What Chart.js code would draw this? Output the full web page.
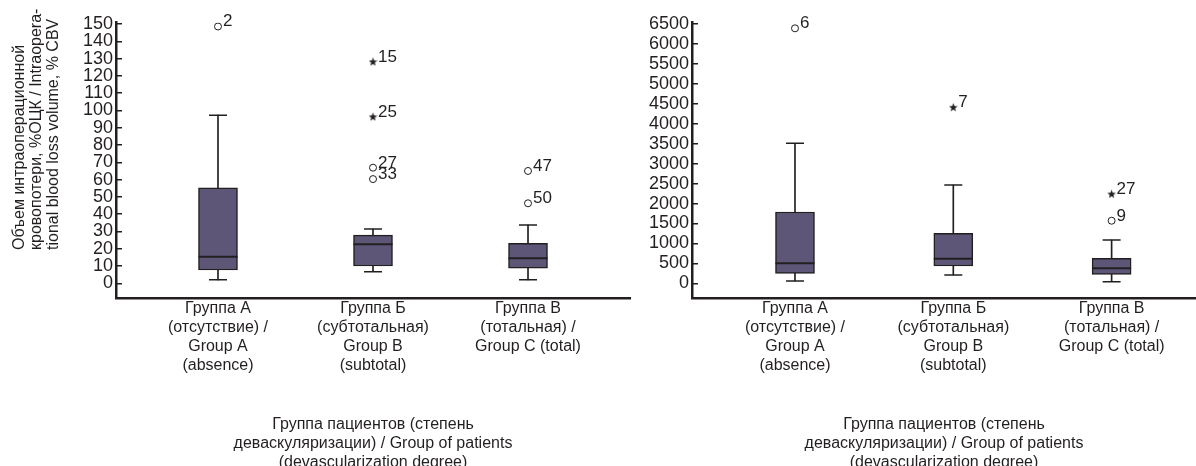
<!DOCTYPE html>
<html>
<head>
<meta charset="utf-8">
<script src="https://cdn.jsdelivr.net/npm/chart.js@4.4.0/dist/chart.umd.min.js"></script>
<style>
html, body { margin: 0; padding: 0; background: #fff; overflow: hidden; }
#left { position: absolute; left: 0; top: 0; width: 640px; height: 466px; }
#right { position: absolute; left: 640px; top: 0; width: 556px; height: 466px; }
</style>
</head>
<body>
<div id="left"><canvas id="chartLeft"></canvas></div>
<div id="right"><canvas id="chartRight"></canvas></div>
<script>
// categories
var groupX = [1, 2, 3];
var groupLabels = [
    ['Группа А', '(отсутствие) /', 'Group A', '(absence)'],
    ['Группа Б', '(субтотальная)', 'Group B', '(subtotal)'],
    ['Группа В', '(тотальная) /', 'Group C (total)']
];
var xTitle = ['Группа пациентов (степень', 'деваскуляризации) / Group of patients', '(devascularization degree)'];
var yTitle = ['Объем интраоперационной', 'кровопотери, %ОЦК / Intraopera-', 'tional blood loss volume, % CBV'];

// left chart: % CBV
var pctMin = [2, 6.7, 2];
var pctQ1 = [7.7, 10, 8.7];
var pctMedian = [15.4, 22.6, 14.5];
var pctQ3 = [55.3, 27.9, 23.1];
var pctMax = [97.3, 31.4, 33.7];
var pctOutX = [1, 2, 2, 3, 3];
var pctOutY = [148.6, 66.9, 60.3, 65, 46.3];
var pctOutLabels = ['2', '27', '33', '47', '50'];
var pctExtX = [2, 2];
var pctExtY = [128.2, 96.4];
var pctExtLabels = ['15', '25'];
var pctTicks = [0, 10, 20, 30, 40, 50, 60, 70, 80, 90, 100, 110, 120, 130, 140, 150];

// right chart: ml
var mlMin = [58, 208, 40];
var mlQ1 = [251, 434, 226];
var mlMedian = [501, 617, 376];
var mlQ3 = [1787, 1253, 627];
var mlMax = [3510, 2464, 1085];
var mlOutX = [1, 3];
var mlOutY = [6392, 1569];
var mlOutLabels = ['6', '9'];
var mlExtX = [2, 3];
var mlExtY = [4412, 2239];
var mlExtLabels = ['7', '27'];
var mlTicks = [0, 500, 1000, 1500, 2000, 2500, 3000, 3500, 4000, 4500, 5000, 5500, 6000, 6500];

var ink = '#231f20';
var boxFill = '#5d5677';
var fontFamily = "'Liberation Sans', Arial, sans-serif";

// small filled star used as point style for extreme values
var star = document.createElement('canvas');
star.width = 9; star.height = 9;
(function () {
    var c = star.getContext('2d');
    c.fillStyle = ink;
    c.beginPath();
    for (var i = 0; i < 10; i++) {
        var r = i % 2 === 0 ? 4.5 : 1.9;
        var a = -Math.PI / 2 + i * Math.PI / 5;
        var px = 4.5 + r * Math.cos(a), py = 4.8 + r * Math.sin(a);
        if (i === 0) c.moveTo(px, py); else c.lineTo(px, py);
    }
    c.closePath();
    c.fill();
})();

function pts(xs, ys) {
    return xs.map(function (x, i) { return { x: x, y: ys[i] }; });
}
function ranges(lo, hi) {
    return groupX.map(function (x, i) { return { x: x, y: [lo[i], hi[i]] }; });
}

var pointLabels = {
    id: 'pointLabels',
    afterDatasetsDraw: function (chart) {
        var ctx = chart.ctx;
        ctx.save();
        ctx.fillStyle = ink;
        ctx.font = '17px ' + fontFamily;
        ctx.textAlign = 'left';
        ctx.textBaseline = 'alphabetic';
        chart.data.datasets.forEach(function (ds, i) {
            if (!ds.pointNames) return;
            chart.getDatasetMeta(i).data.forEach(function (el, j) {
                ctx.fillText(ds.pointNames[j], el.x + 5, el.y);
            });
        });
        ctx.restore();
    }
};

var yTitlePlugin = {
    id: 'yTitle',
    afterDraw: function (chart) {
        var ctx = chart.ctx;
        ctx.save();
        ctx.fillStyle = ink;
        ctx.font = '16px ' + fontFamily;
        ctx.textAlign = 'left';
        ctx.textBaseline = 'middle';
        ctx.translate(0, 250);
        ctx.rotate(-Math.PI / 2);
        yTitle.forEach(function (line, i) {
            ctx.fillText(line, 0, 20 + i * 17);
        });
        ctx.restore();
    }
};

function makeChart(id, d, opts) {
    var font = { family: fontFamily, size: 16, lineHeight: '19px' };
    return new Chart(document.getElementById(id), {
        type: 'bar',
        data: {
            datasets: [
                { data: ranges(d.min, d.q1), backgroundColor: ink, barThickness: 1, grouped: false, order: 5 },
                { data: ranges(d.q3, d.max), backgroundColor: ink, barThickness: 1, grouped: false, order: 5 },
                { data: ranges(d.q1, d.q3), backgroundColor: boxFill, borderColor: ink, borderWidth: 1.5,
                  borderSkipped: false, barThickness: 39, grouped: false, order: 4 },
                { type: 'scatter', data: pts(groupX, d.median), pointStyle: 'line', radius: 19.5,
                  borderColor: ink, borderWidth: 2, order: 1 },
                { type: 'scatter', data: pts(groupX.concat(groupX), d.min.concat(d.max)), pointStyle: 'line',
                  radius: 9, borderColor: ink, borderWidth: 1.5, order: 1 },
                { type: 'scatter', data: pts(d.outX, d.outY), pointNames: d.outLabels, pointStyle: 'circle',
                  radius: 3.5, backgroundColor: '#fff', borderColor: ink, borderWidth: 1, order: 1 },
                { type: 'scatter', data: pts(d.extX, d.extY), pointNames: d.extLabels, pointStyle: star,
                  order: 1 }
            ]
        },
        options: {
            responsive: true,
            maintainAspectRatio: false,
            animation: false,
            events: [],
            layout: { autoPadding: false, padding: { top: 22.5, right: opts.padRight, left: 0, bottom: 0 } },
            plugins: { legend: { display: false }, tooltip: { enabled: false } },
            scales: {
                x: {
                    type: 'linear',
                    offset: false,
                    min: opts.xMin,
                    max: opts.xMax,
                    afterBuildTicks: function (s) { s.ticks = groupX.map(function (v) { return { value: v }; }); },
                    afterFit: function (s) { s.height = 168; s.paddingLeft = 0; s.paddingRight = 0; },
                    ticks: {
                        autoSkip: false, maxRotation: 0, padding: -7, color: ink, font: font,
                        callback: function (v) { return groupLabels[Math.round(v) - 1]; }
                    },
                    grid: { display: false, offset: false },
                    border: { display: true, width: 2.5, color: ink },
                    title: { display: true, text: xTitle, color: ink, font: font, padding: { top: 0, bottom: -6 } }
                },
                y: {
                    min: opts.yMin,
                    max: opts.yMax,
                    afterBuildTicks: function (s) { s.ticks = opts.ticks.map(function (v) { return { value: v }; }); },
                    afterFit: function (s) { s.width = opts.yWidth; },
                    ticks: {
                        autoSkip: false, padding: 9, color: ink, font: { family: fontFamily, size: 18 },
                        callback: function (v) { return String(v); }
                    },
                    grid: { drawOnChartArea: false, drawTicks: true, tickLength: -6, color: ink, lineWidth: 1.5 },
                    border: { display: true, width: 2.5, color: ink }
                }
            }
        },
        plugins: opts.plugins
    });
}

makeChart('chartLeft', {
    min: pctMin, q1: pctQ1, median: pctMedian, q3: pctQ3, max: pctMax,
    outX: pctOutX, outY: pctOutY, outLabels: pctOutLabels,
    extX: pctExtX, extY: pctExtY, extLabels: pctExtLabels
}, { xMin: 0.342, xMax: 3.658, yMin: -8.5, yMax: 150.9, ticks: pctTicks, yWidth: 116, padRight: 10,
     plugins: [pointLabels, yTitlePlugin] });

makeChart('chartRight', {
    min: mlMin, q1: mlQ1, median: mlMedian, q3: mlQ3, max: mlMax,
    outX: mlOutX, outY: mlOutY, outLabels: mlOutLabels,
    extX: mlExtX, extY: mlExtY, extLabels: mlExtLabels
}, { xMin: 0.3495, xMax: 3.533, yMin: -368, yMax: 6538, ticks: mlTicks, yWidth: 52, padRight: 0,
     plugins: [pointLabels] });
</script>
</body>
</html>
